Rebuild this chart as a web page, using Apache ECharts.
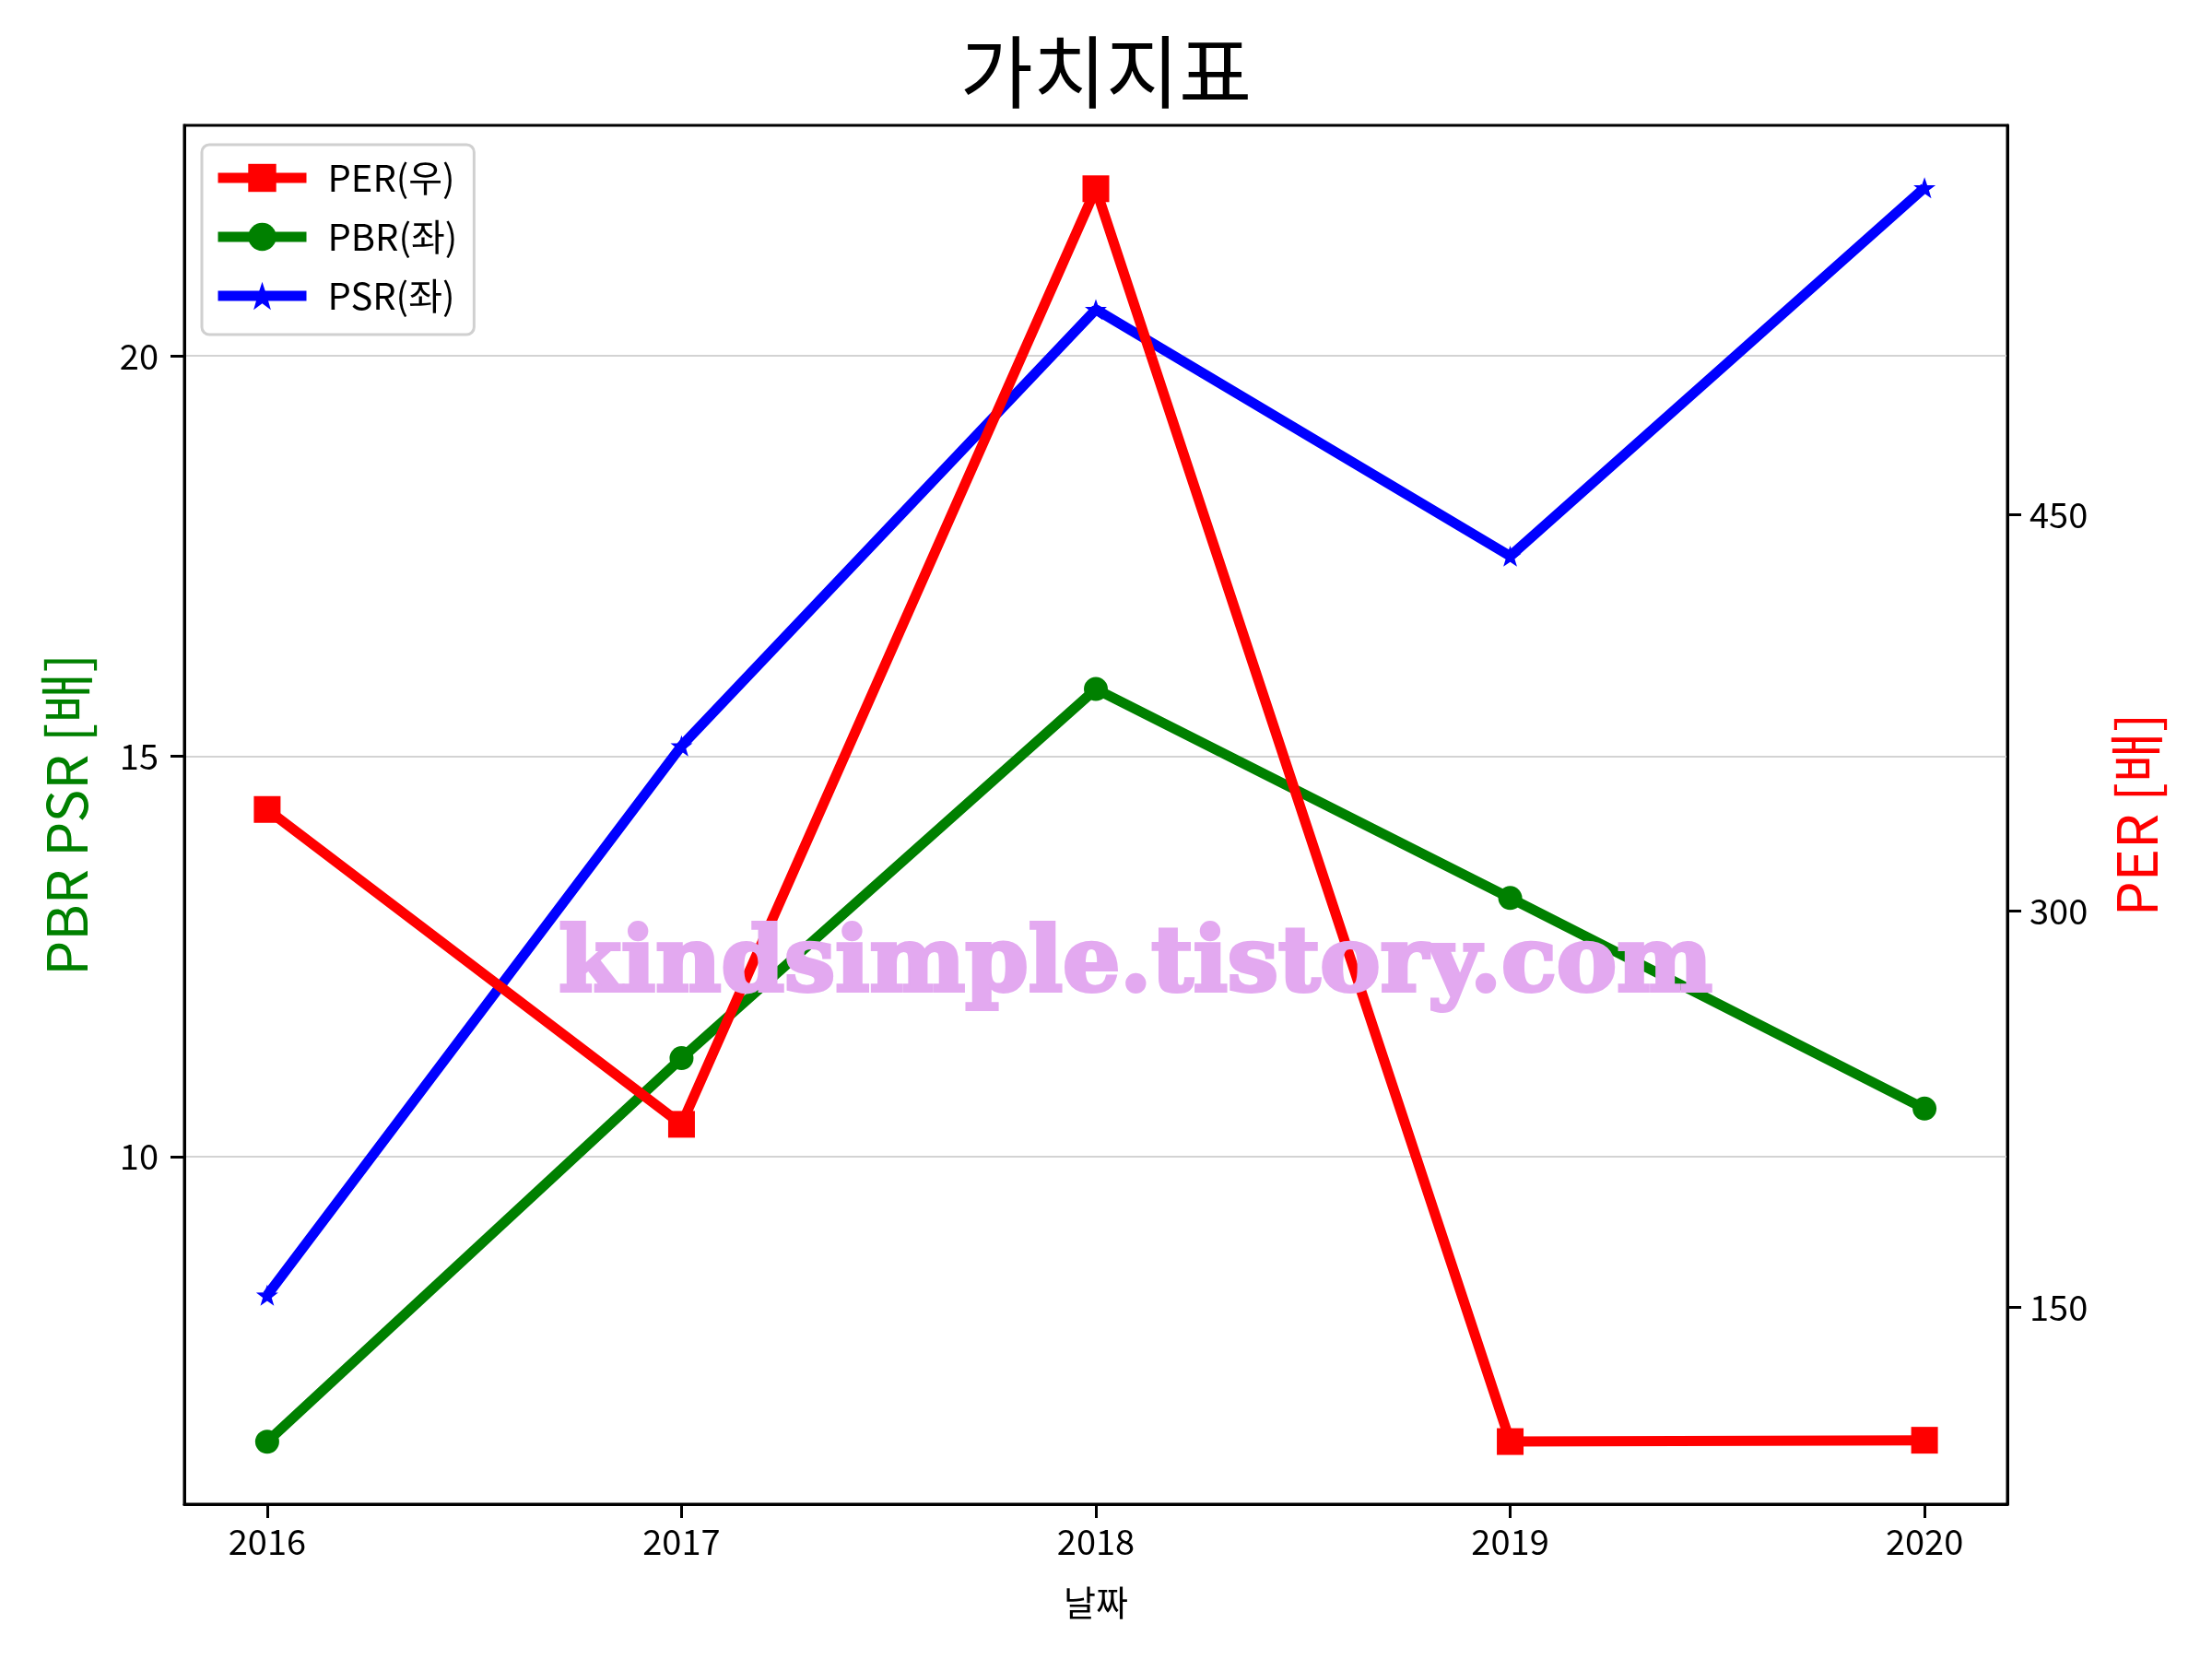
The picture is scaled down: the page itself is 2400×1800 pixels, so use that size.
<!DOCTYPE html>
<html>
<head>
<meta charset="utf-8">
<script src="https://cdn.jsdelivr.net/npm/echarts@6/dist/echarts.min.js"></script>
<style>
  html, body { margin: 0; padding: 0; background: #fff; }
  #main { width: 2400px; height: 1800px; }
</style>
</head>
<body>
<div id="main"></div>
<script>
// 연도 (x축)
var years = [2016, 2017, 2018, 2019, 2020];
// 가치지표 값
var perValues = [338.5, 219.3, 573.5, 99.2, 99.7];   // 우측 축
var pbrValues = [6.44, 11.23, 15.84, 13.23, 10.6];   // 좌측 축
var psrValues = [8.27, 15.13, 20.58, 17.5, 22.1];    // 좌측 축
// 눈금
var leftTicks = [10, 15, 20];
var rightTicks = [150, 300, 450];

var FONT = '"Noto Sans CJK KR", "Noto Sans", sans-serif';
var starPath = 'path://M100,0L123.5,67.6L195.1,69.1L138,112.4L158.8,180.9L100,140L41.2,180.9L62,112.4L4.9,69.1L76.5,67.6Z';

function pairs(vals) {
    return years.map(function (y, i) { return [y, vals[i]]; });
}

var myChart = echarts.init(document.getElementById('main'));

var option = {
    backgroundColor: '#fff',
    animation: false,
    title: {
        text: '가치지표',
        left: 'center',
        top: 30,
        textStyle: { fontFamily: FONT, fontSize: 86, fontWeight: 'normal', color: '#000' }
    },
    legend: {
        orient: 'vertical',
        left: 219,
        top: 157,
        padding: [16, 18, 22, 12],
        itemGap: 24,
        itemWidth: 96,
        itemHeight: 38,
        backgroundColor: '#fff',
        borderColor: '#d0d0d0',
        borderWidth: 3,
        borderRadius: 8,
        lineStyle: { width: 11 },
        textStyle: { fontFamily: FONT, fontSize: 40, color: '#000', padding: [0, 0, 0, 18] },
        data: ['PER(우)', 'PBR(좌)', 'PSR(좌)']
    },
    grid: {
        left: 200, right: 222, top: 136, bottom: 168,
        show: true, borderColor: '#000', borderWidth: 3
    },
    xAxis: {
        type: 'value',
        min: 2015.8,
        max: 2020.2,
        name: '날짜',
        nameLocation: 'middle',
        nameGap: 88,
        nameTextStyle: { fontFamily: FONT, fontSize: 38, color: '#000' },
        axisLine: { show: true, lineStyle: { color: '#000', width: 3 } },
        axisTick: { show: true, length: 15, lineStyle: { color: '#000', width: 3 }, customValues: years },
        axisLabel: {
            customValues: years,
            margin: 22,
            fontFamily: FONT, fontSize: 38, color: '#000',
            formatter: function (v) { return String(v); }
        },
        splitLine: { show: false }
    },
    yAxis: [{
        type: 'value',
        position: 'left',
        min: 5.66,
        max: 22.88,
        name: 'PBR PSR [배]',
        nameLocation: 'middle',
        nameGap: 98,
        nameTextStyle: { fontFamily: FONT, fontSize: 60, color: '#008000' },
        axisLine: { show: true, lineStyle: { color: '#000', width: 3 } },
        axisTick: { show: true, length: 15, lineStyle: { color: '#000', width: 3 }, customValues: leftTicks },
        axisLabel: { customValues: leftTicks, margin: 28, fontFamily: FONT, fontSize: 38, color: '#000' },
        splitLine: { show: true, lineStyle: { color: '#d3d3d3', width: 2 } }
    }, {
        type: 'value',
        position: 'right',
        min: 75.5,
        max: 597.5,
        name: 'PER [배]',
        nameLocation: 'middle',
        nameGap: 110,
        nameRotate: 90,
        nameTextStyle: { fontFamily: FONT, fontSize: 60, color: '#ff0000' },
        axisLine: { show: true, lineStyle: { color: '#000', width: 3 } },
        axisTick: { show: true, length: 15, lineStyle: { color: '#000', width: 3 }, customValues: rightTicks },
        axisLabel: { customValues: rightTicks, margin: 24, fontFamily: FONT, fontSize: 38, color: '#000' },
        splitLine: { show: false }
    }],
    series: [{
        name: 'PER(우)',
        type: 'line',
        yAxisIndex: 1,
        z: 4,
        data: pairs(perValues),
        symbol: 'rect',
        symbolSize: 29,
        color: '#ff0000',
        lineStyle: { width: 11, color: '#ff0000' },
        itemStyle: { color: '#ff0000' }
    }, {
        name: 'PBR(좌)',
        type: 'line',
        yAxisIndex: 0,
        z: 2,
        data: pairs(pbrValues),
        symbol: 'circle',
        symbolSize: 26,
        color: '#008000',
        lineStyle: { width: 11, color: '#008000' },
        itemStyle: { color: '#008000' }
    }, {
        name: 'PSR(좌)',
        type: 'line',
        yAxisIndex: 0,
        z: 3,
        data: pairs(psrValues),
        symbol: starPath,
        symbolKeepAspect: true,
        symbolSize: 24,
        color: '#0000ff',
        lineStyle: { width: 11, color: '#0000ff' },
        itemStyle: { color: '#0000ff' }
    }],
    graphic: [{
        type: 'text',
        z: 100,
        x: 1232,
        y: 1050,
        style: {
            text: 'kindsimple.tistory.com',
            fill: '#e3a9f0',
            stroke: '#e3a9f0',
            lineWidth: 4,
            font: 'bold 98px "DejaVu Serif", serif',
            textAlign: 'center',
            textVerticalAlign: 'middle'
        }
    }]
};

myChart.setOption(option);
</script>
</body>
</html>
